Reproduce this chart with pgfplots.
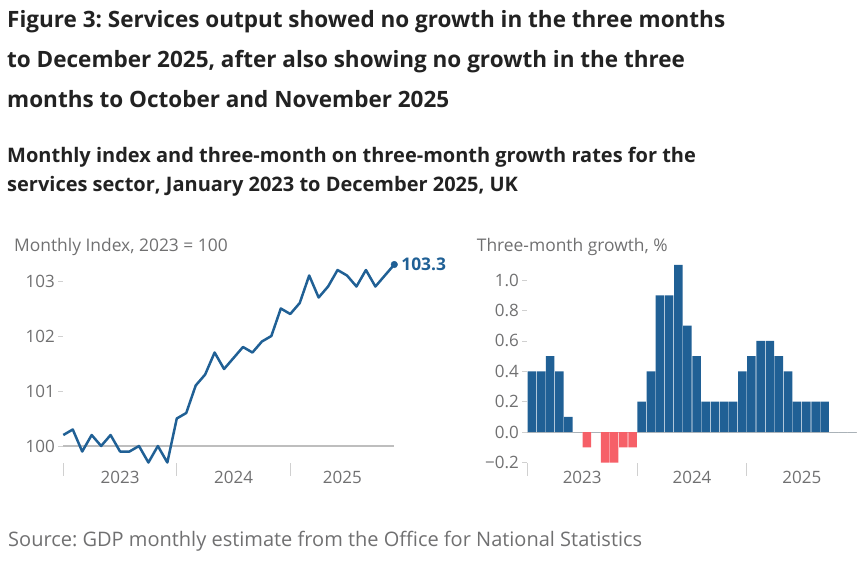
\documentclass[border=0pt]{standalone}
\usepackage{fontspec}
\setmainfont{Open Sans}
\usepackage{pgfplots}
\pgfplotsset{compat=1.18}
\usepackage{pgfplotstable}

\definecolor{onsblue}{HTML}{206095}
\definecolor{onscoral}{HTML}{F66068}
\definecolor{tickgray}{HTML}{707071}
\definecolor{basegray}{HTML}{BEBEBE}
\definecolor{markgray}{HTML}{D0D0D0}
\definecolor{titleink}{HTML}{222222}

% monthly index, 2023 = 100 (month 1 = Jan 2023)
\pgfplotstableread{
month index
1  100.2
2  100.3
3  99.9
4  100.2
5  100.0
6  100.2
7  99.9
8  99.9
9  100.0
10 99.7
11 100.0
12 99.7
13 100.5
14 100.6
15 101.1
16 101.3
17 101.7
18 101.4
19 101.6
20 101.8
21 101.7
22 101.9
23 102.0
24 102.5
25 102.4
26 102.6
27 103.1
28 102.7
29 102.9
30 103.2
31 103.1
32 102.9
33 103.2
34 102.9
35 103.1
36 103.3
}\indextable

% three-month on three-month growth, % (bar centre = month - 0.5)
\pgfplotstableread{
x    growth
0.5  0.4
1.5  0.4
2.5  0.5
3.5  0.4
4.5  0.1
5.5  0.0
6.5  -0.1
7.5  0.0
8.5  -0.2
9.5  -0.2
10.5 -0.1
11.5 -0.1
12.5 0.2
13.5 0.4
14.5 0.9
15.5 0.9
16.5 1.1
17.5 0.7
18.5 0.5
19.5 0.2
20.5 0.2
21.5 0.2
22.5 0.2
23.5 0.4
24.5 0.5
25.5 0.6
26.5 0.6
27.5 0.5
28.5 0.4
29.5 0.2
30.5 0.2
31.5 0.2
32.5 0.2
33.5 0.0
34.5 0.0
35.5 0.0
}\growthtable

\pgfplotsset{
  ons/.style={
    scale only axis,
    clip=false,
    axis line style={draw=none},
    tick align=outside,
    major tick length=5pt,
    minor tick length=13pt,
    major x tick style={draw=none},
    major y tick style={draw=markgray, line width=0.8pt},
    minor x tick style={draw=markgray, line width=1pt},
    xtick pos=bottom, ytick pos=left,
    tick label style={font=\fontsize{17}{20}\selectfont, text=tickgray},
    /pgf/number format/assume math mode=true,
  },
}

\begin{document}
\frenchspacing
\begin{tikzpicture}[x=1pt,y=1pt]
\useasboundingbox (0,0) rectangle (863,-565);

\node[anchor=base west, inner sep=0, font=\fontsize{22.5}{26}\selectfont\bfseries, text=titleink] at (7,-27.3)
  {Figure 3: Services output showed no growth in the three months};
\node[anchor=base west, inner sep=0, font=\fontsize{22.5}{26}\selectfont\bfseries, text=titleink] at (7,-67.7)
  {to December 2025, after also showing no growth in the three};
\node[anchor=base west, inner sep=0, font=\fontsize{22.5}{26}\selectfont\bfseries, text=titleink] at (7,-107.7)
  {months to October and November 2025};

\node[anchor=base west, inner sep=0, font=\fontsize{20}{22}\selectfont\bfseries, text=titleink] at (7,-162.3)
  {Monthly index and three-month on three-month growth rates for the};
\node[anchor=base west, inner sep=0, font=\fontsize{20}{22}\selectfont\bfseries, text=titleink] at (7,-191.8)
  {services sector, January 2023 to December 2025, UK};

\node[anchor=base west, inner sep=0, font=\fontsize{17.4}{20}\selectfont, text=tickgray] at (14,-251.7)
  {Monthly Index, 2023 = 100};
\node[anchor=base west, inner sep=0, font=\fontsize{17.4}{20}\selectfont, text=tickgray] at (476.7,-251.7)
  {Three-month growth, \%};

\node[anchor=base west, inner sep=0, font=\fontsize{20}{22}\selectfont, text=tickgray] at (8,-546.7)
  {Source: GDP monthly estimate from the Office for National Statistics};

% left: monthly index
\begin{axis}[ons,
  at={(63.3pt,-462.5pt)}, anchor=south west,
  width=331pt, height=198pt,
  xmin=1, xmax=36, ymin=99.7, ymax=103.3,
  xtick={7,19,30.5}, xticklabels={2023,2024,2025},
  minor xtick={1,13,25},
  ytick={100,101,102,103},
  /pgf/number format/fixed, /pgf/number format/precision=1,
  /pgf/number format/fixed zerofill,
  yticklabels={100,101,102,103},
]
\draw[basegray, line width=1.2pt] (axis cs:1,100) -- (axis cs:36,100);
\addplot[onsblue, line width=2.5pt, line join=round, no marks] table[x=month, y=index] {\indextable};
\addplot[onsblue, only marks, mark=*, mark size=3.3pt,
  restrict x to domain=36:36,
  nodes near coords, point meta=y,
  /pgfplots/every node near coord/.append style={anchor=west, xshift=3.5pt,
    font=\fontsize{17.4}{20}\selectfont\bfseries, text=onsblue}]
  table[x=month, y=index] {\indextable};
\end{axis}

% right: three-month growth
\begin{axis}[ons,
  at={(527.3pt,-462.5pt)}, anchor=south west,
  width=329.4pt, height=197.6pt,
  xmin=0, xmax=36, ymin=-0.2, ymax=1.1,
  xtick={6,18,30}, xticklabels={2023,2024,2025},
  minor xtick={0,12,24},
  ytick={-0.2,0,0.2,0.4,0.6,0.8,1.0},
  yticklabels={−0.2,0.0,0.2,0.4,0.6,0.8,1.0},
]
\draw[basegray, line width=1.2pt] (axis cs:0,0) -- (axis cs:36,0);
\addplot[ybar, bar width=8.5pt, bar shift=0pt, fill=onsblue, draw=none,
  restrict y to domain=0:5] table[x=x, y=growth] {\growthtable};
\addplot[ybar, bar width=8.5pt, bar shift=0pt, fill=onscoral, draw=none,
  restrict y to domain=-5:-0.01] table[x=x, y=growth] {\growthtable};
\end{axis}
\end{tikzpicture}
\end{document}
